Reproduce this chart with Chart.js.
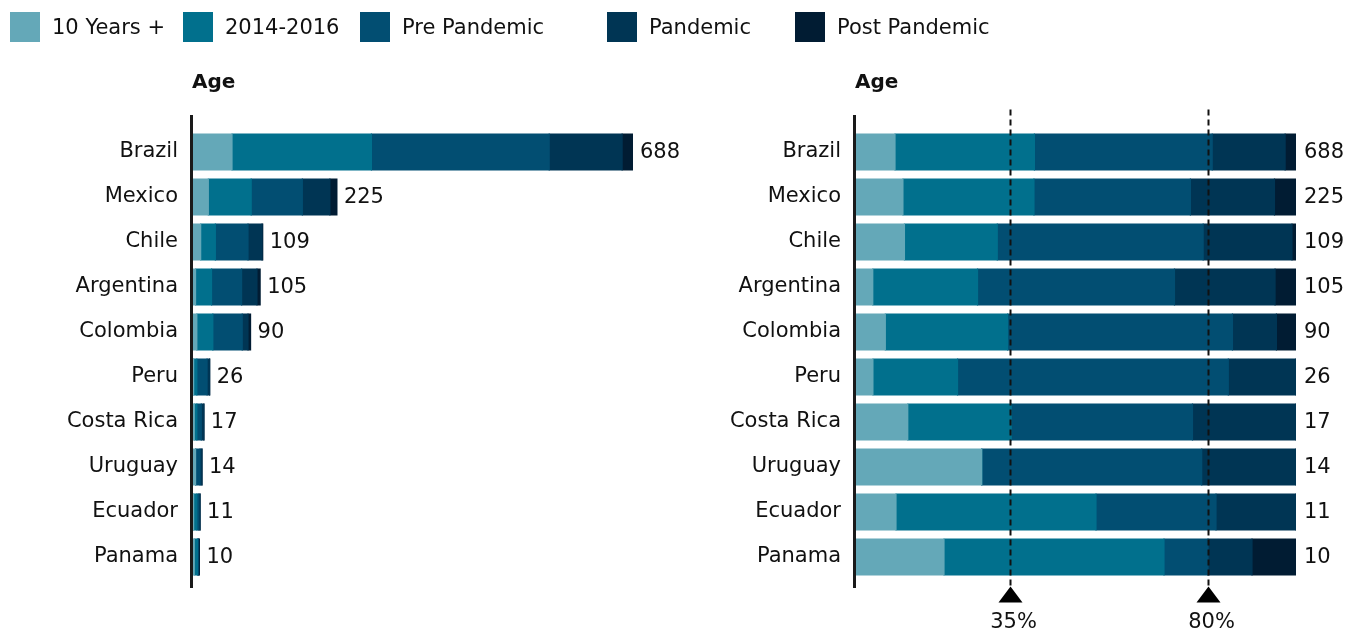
<!DOCTYPE html>
<html>
<head>
<meta charset="utf-8">
<script src="https://cdn.jsdelivr.net/npm/chart.js@4/dist/chart.umd.min.js"></script>
<style>
  html, body { margin: 0; padding: 0; background: #fff; }
  #wrap { position: relative; width: 1352px; height: 629px; overflow: hidden; font-family: "DejaVu Sans", sans-serif; }
  canvas { position: absolute; left: 0; top: 0; }
  .lg { position: absolute; top: 12px; height: 30px; display: flex; align-items: center; font-size: 21px; color: #111; white-space: nowrap; }
  .lg .sw { width: 30px; height: 30px; margin-right: 12px; flex: none; }
</style>
</head>
<body>
<div id="wrap">
  <canvas id="left" width="1352" height="629"></canvas>
  <canvas id="right" width="1352" height="629"></canvas>
</div>
<script>
// ---------- DATA ----------
const categories = ['Brazil','Mexico','Chile','Argentina','Colombia','Peru','Costa Rica','Uruguay','Ecuador','Panama'];
const seriesNames = ['10 Years +','2014-2016','Pre Pandemic','Pandemic','Post Pandemic'];
const tenYearsPlus = [61, 24, 12, 4, 6, 1, 2, 4, 1, 2];
const years2014to2016 = [218, 67, 23, 25, 25, 5, 4, 0, 5, 5];
const prePandemic = [278, 80, 51, 47, 46, 16, 7, 7, 3, 1];
const pandemic = [114, 43, 22, 24, 9, 4, 4, 3, 2, 1];
const postPandemic = [17, 11, 1, 5, 4, 0, 0, 0, 0, 1];
const totals = [688, 225, 109, 105, 90, 26, 17, 14, 11, 10];
const refLinePercents = [35, 80];
const refLineLabels = ['35%', '80%'];
const panelTitle = 'Age';

// ---------- STYLE ----------
const seriesColors = ['#64a8b8', '#01708d', '#024e72', '#003554', '#011c33'];
const legendLeft = [10, 183, 360, 607, 795];
const FONT = '"DejaVu Sans", sans-serif';
const FSIZE = 21;

// legend (HTML)
const wrap = document.getElementById('wrap');
seriesNames.forEach((name, i) => {
  const d = document.createElement('div');
  d.className = 'lg';
  d.style.left = legendLeft[i] + 'px';
  const s = document.createElement('span');
  s.className = 'sw';
  s.style.background = seriesColors[i];
  const t = document.createElement('span');
  t.textContent = name;
  d.appendChild(s); d.appendChild(t);
  wrap.appendChild(d);
});

const seriesData = [tenYearsPlus, years2014to2016, prePandemic, pandemic, postPandemic];

function makeDatasets(percent) {
  return seriesNames.map((name, si) => ({
    label: name,
    data: seriesData[si].map((v, ci) => percent ? v / totals[ci] * 100 : v),
    backgroundColor: seriesColors[si],
    borderWidth: 0,
    inflateAmount: 0.6,
    barPercentage: 0.8,
    categoryPercentage: 1.0
  }));
}

const decorPlugin = {
  id: 'decor',
  afterDraw(chart, args, opts) {
    const { ctx, chartArea, scales } = chart;
    ctx.save();
    // axis line
    ctx.strokeStyle = '#1a1a1a';
    ctx.lineWidth = 3;
    ctx.beginPath();
    ctx.moveTo(chartArea.left - 1.5, chartArea.top - 14.5);
    ctx.lineTo(chartArea.left - 1.5, chartArea.bottom + 8.5);
    ctx.stroke();
    // title
    ctx.fillStyle = '#111';
    ctx.font = 'bold 20px ' + FONT;
    ctx.textAlign = 'left';
    ctx.textBaseline = 'middle';
    ctx.fillText(panelTitle, chartArea.left - 1, 83);
    // reference lines
    if (opts.refs) {
      ctx.strokeStyle = '#111';
      ctx.lineWidth = 2;
      ctx.setLineDash([6, 4]);
      refLinePercents.forEach((p) => {
        const x = Math.round(scales.x.getPixelForValue(p)) + 0.5;
        ctx.beginPath();
        ctx.moveTo(x, chartArea.top - 20);
        ctx.lineTo(x, chartArea.bottom + 8);
        ctx.stroke();
      });
      ctx.setLineDash([]);
      refLinePercents.forEach((p, i) => {
        const x = Math.round(scales.x.getPixelForValue(p)) + 0.5;
        ctx.fillStyle = '#000';
        ctx.beginPath();
        ctx.moveTo(x, chartArea.bottom + 7);
        ctx.lineTo(x + 12, chartArea.bottom + 23);
        ctx.lineTo(x - 12, chartArea.bottom + 23);
        ctx.closePath();
        ctx.fill();
        ctx.fillStyle = '#111';
        ctx.font = FSIZE + 'px ' + FONT;
        ctx.textAlign = 'center';
        ctx.textBaseline = 'middle';
        ctx.fillText(refLineLabels[i], x + 3, chartArea.bottom + 43);
      });
    }
    // totals
    ctx.fillStyle = '#111';
    ctx.font = FSIZE + 'px ' + FONT;
    ctx.textAlign = 'left';
    ctx.textBaseline = 'middle';
    totals.forEach((t, i) => {
      const xv = opts.refs ? 100 : t;
      const x = scales.x.getPixelForValue(xv) + (opts.refs ? 8 : 7);
      const y = scales.y.getPixelForValue(i) + 1;
      ctx.fillText(String(t), x, y);
    });
    ctx.restore();
  }
};

function makeChart(id, percent, axisLeft, plotRight, xMax) {
  return new Chart(document.getElementById(id), {
    type: 'bar',
    data: { labels: categories, datasets: makeDatasets(percent) },
    plugins: [decorPlugin],
    options: {
      responsive: false,
      animation: false,
      indexAxis: 'y',
      layout: { padding: { left: 0, right: 1352 - plotRight, top: 129.5, bottom: 629 - 579.5 } },
      plugins: {
        legend: { display: false },
        tooltip: { enabled: false },
        title: { display: false },
        decor: { refs: percent }
      },
      scales: {
        x: { stacked: true, display: false, min: 0, max: xMax },
        y: {
          stacked: true,
          grid: { display: false, drawTicks: false },
          border: { display: false },
          ticks: { color: '#111', font: { family: FONT, size: FSIZE }, padding: 15 },
          afterFit(scale) { scale.width = axisLeft; }
        }
      }
    }
  });
}

makeChart('left', false, 193, 633, 688);
makeChart('right', true, 856, 1296, 100);
</script>
</body>
</html>
